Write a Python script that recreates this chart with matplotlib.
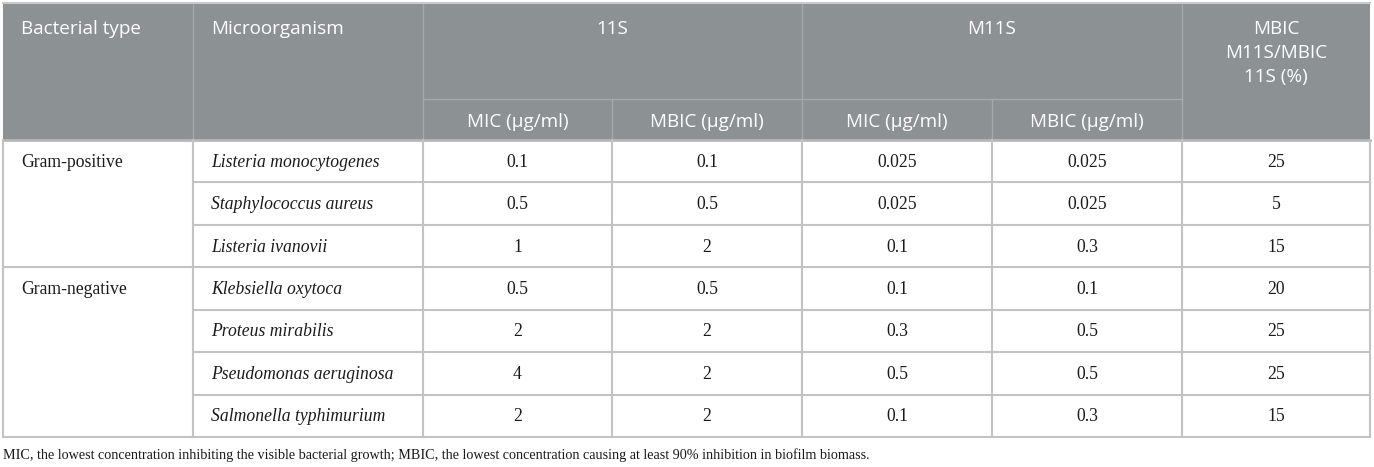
import matplotlib.pyplot as plt
from matplotlib.patches import Rectangle

# table content
bacterial_types = ["Gram-positive", "Gram-negative"]
group_sizes = [3, 4]
microorganisms = ["Listeria monocytogenes", "Staphylococcus aureus", "Listeria ivanovii",
                  "Klebsiella oxytoca", "Proteus mirabilis", "Pseudomonas aeruginosa",
                  "Salmonella typhimurium"]
mic_11s = ["0.1", "0.5", "1", "0.5", "2", "4", "2"]
mbic_11s = ["0.1", "0.5", "2", "0.5", "2", "2", "2"]
mic_m11s = ["0.025", "0.025", "0.1", "0.1", "0.3", "0.5", "0.1"]
mbic_m11s = ["0.025", "0.025", "0.3", "0.1", "0.5", "0.5", "0.3"]
ratio = ["25", "5", "15", "20", "25", "25", "15"]

footnote = ("MIC, the lowest concentration inhibiting the visible bacterial growth; "
            "MBIC, the lowest concentration causing at least 90% inhibition in biofilm biomass.")

W, H = 1374, 467
fig = plt.figure(figsize=(W / 100, H / 100), dpi=100)
ax = fig.add_axes([0, 0, 1, 1])
ax.set_xlim(0, W)
ax.set_ylim(H, 0)
ax.axis("off")

hdr_col = "#8c9194"
hdr_line = "#a5a9ab"
body_line = "#c3c3c3"
txt_col = "#1a1a1a"
sans = "Open Sans"
serif = ["Liberation Serif", "DejaVu Serif"]

cols = [3, 193, 423, 612, 802, 992, 1182, 1370]
top, hdr_mid, hdr_bot = 4, 99, 140
row_h = (437 - hdr_bot) / len(microorganisms)
rows = [hdr_bot + i * row_h for i in range(len(microorganisms) + 1)]

# header block
ax.add_patch(Rectangle((cols[0], top), cols[-1] - cols[0], hdr_bot - top,
                       facecolor=hdr_col, edgecolor="none"))
ax.plot([cols[0], cols[-1]], [top - 1, top - 1], color="#c8cbcc", lw=1.5)
for x in [cols[1], cols[2], cols[4], cols[6]]:
    ax.plot([x, x], [top, hdr_bot], color=hdr_line, lw=1)
for x in [cols[3], cols[5]]:
    ax.plot([x, x], [hdr_mid, hdr_bot], color=hdr_line, lw=1)
ax.plot([cols[2], cols[6]], [hdr_mid, hdr_mid], color=hdr_line, lw=1)
ax.plot([cols[0], cols[-1]], [hdr_bot, hdr_bot], color="#b5b8b9", lw=2)

hfs = 13.6
ax.text(21, 29, "Bacterial type", color="white", fontsize=hfs, family=sans, va="center")
ax.text(211, 29, "Microorganism", color="white", fontsize=hfs, family=sans, va="center")
ax.text((cols[2] + cols[4]) / 2, 29, "11S", color="white", fontsize=hfs, family=sans,
        va="center", ha="center")
ax.text((cols[4] + cols[6]) / 2, 29, "M11S", color="white", fontsize=hfs, family=sans,
        va="center", ha="center")
for i, lab in enumerate(["MBIC", "M11S/MBIC", "11S (%)"]):
    ax.text((cols[6] + cols[7]) / 2, 29 + 24 * i, lab, color="white", fontsize=hfs,
            family=sans, va="center", ha="center")
for j, lab in enumerate(["MIC (\u03bcg/ml)", "MBIC (\u03bcg/ml)"] * 2):
    ax.text((cols[2 + j] + cols[3 + j]) / 2, 122, lab, color="white", fontsize=hfs,
            family=sans, va="center", ha="center")

# body grid
for x in cols:
    ax.plot([x, x], [hdr_bot, rows[-1]], color=body_line, lw=1.5)
ax.plot([cols[0], cols[-1]], [rows[-1], rows[-1]], color=body_line, lw=1.5)
start = 0
group_lines = []
for n in group_sizes:
    start += n
    group_lines.append(start)
for i in range(1, len(microorganisms)):
    x0 = cols[0] if i in group_lines else cols[1]
    ax.plot([x0, cols[-1]], [rows[i], rows[i]], color=body_line, lw=1.5)

bfs = 12.7
start = 0
for name, n in zip(bacterial_types, group_sizes):
    ax.text(21, (rows[start] + rows[start + 1]) / 2 + 1, name, color=txt_col,
            fontsize=bfs, family=serif, va="center")
    start += n

for i in range(len(microorganisms)):
    yc = (rows[i] + rows[i + 1]) / 2 + 1
    ax.text(211, yc, microorganisms[i], color=txt_col, fontsize=bfs, family=serif,
            style="italic", va="center")
    vals = [mic_11s[i], mbic_11s[i], mic_m11s[i], mbic_m11s[i], ratio[i]]
    for j, v in enumerate(vals):
        ax.text((cols[2 + j] + cols[3 + j]) / 2, yc, v, color=txt_col, fontsize=bfs,
                family=serif, va="center", ha="center")

ax.text(3, 455, footnote, color=txt_col, fontsize=10.2, family=serif, va="center")

fig.savefig("out.png", dpi=100)
